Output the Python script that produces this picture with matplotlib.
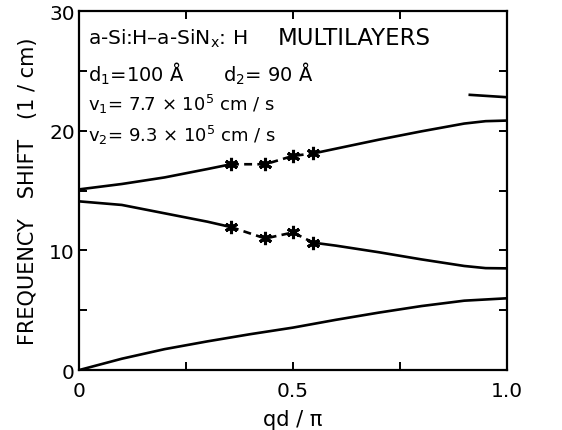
import matplotlib.pyplot as plt
import numpy as np

# ----- branch 1 (acoustic, from origin) -----
x1 = [0.0, 0.1, 0.2, 0.3, 0.4, 0.5, 0.6, 0.7, 0.8, 0.9, 1.0]
y1 = [0.0, 0.95, 1.75, 2.4, 3.0, 3.55, 4.2, 4.8, 5.35, 5.8, 6.0]

# ----- branch 2 (falling from 14) -----
x2a = [0.0, 0.1, 0.2, 0.3, 0.355]
y2a = [14.1, 13.8, 13.1, 12.4, 11.95]
x2s = [0.355, 0.435, 0.50, 0.547]     # measured points (stars)
y2s = [11.95, 11.0, 11.5, 10.65]
x2b = [0.547, 0.6, 0.7, 0.8, 0.9, 0.95, 1.0]
y2b = [10.65, 10.4, 9.85, 9.25, 8.7, 8.52, 8.5]

# ----- branch 3 (rising from 15) -----
x3a = [0.0, 0.1, 0.2, 0.3, 0.355]
y3a = [15.1, 15.55, 16.1, 16.8, 17.2]
x3s = [0.355, 0.435, 0.50, 0.547]
y3s = [17.2, 17.2, 17.9, 18.1]
x3b = [0.547, 0.6, 0.7, 0.8, 0.9, 0.95, 1.0]
y3b = [18.1, 18.5, 19.25, 19.95, 20.6, 20.8, 20.85]

# ----- branch 4 (short piece near zone edge) -----
x4 = [0.913, 1.0]
y4 = [23.0, 22.8]

xticks = [0, 0.5, 1.0]
xtick_labels = ['0', '0.5', '1.0']
yticks = [0, 10, 20, 30]

fig = plt.figure(figsize=(5.62, 4.31), dpi=100)
ax = fig.add_axes([0.1406, 0.139, 0.7616, 0.833])

lw = 1.9
ax.plot(x1, y1, color='k', linewidth=lw)
for xa, ya, xs, ys, xb, yb in [(x2a, y2a, x2s, y2s, x2b, y2b),
                               (x3a, y3a, x3s, y3s, x3b, y3b)]:
    ax.plot(xa, ya, color='k', linewidth=lw, solid_capstyle='butt')
    ax.plot(xs, ys, color='k', linewidth=lw, linestyle=(0, (3, 2)))
    ax.plot(xs, ys, linestyle='none', marker=(6, 2, 0), markersize=9.5,
            markeredgewidth=2.2, color='k')
    ax.plot(xb, yb, color='k', linewidth=lw, solid_capstyle='butt')
ax.plot(x4, y4, color='k', linewidth=lw)

ax.set_xlim(0, 1.0)
ax.set_ylim(0, 30)
ax.set_xticks(xticks)
ax.set_xticklabels(xtick_labels)
ax.set_xticks([0.25, 0.75], minor=True)
ax.set_yticks(yticks)
ax.set_yticks([5, 15, 25], minor=True)
ax.tick_params(which='both', direction='in', top=True, right=True,
               length=6, width=1.4, labelsize=14.5)
ax.tick_params(axis='y', pad=3)
ax.tick_params(axis='x', pad=8)
for s in ax.spines.values():
    s.set_linewidth(1.6)

ax.set_xlabel('qd / π', fontsize=15, labelpad=6)
ax.set_ylabel('FREQUENCY   SHIFT   (1 / cm)', fontsize=15, labelpad=8)

fs = 14
ax.text(0.021, 27.8, 'a-Si:H–a-SiN$_\\mathregular{x}$: H', fontsize=14.5, va='center')
ax.text(0.465, 27.8, 'MULTILAYERS', fontsize=16.5, va='center')
ax.text(0.021, 24.8, 'd$_\\mathregular{1}$=100 Å', fontsize=fs, va='center')
ax.text(0.336, 24.8, 'd$_\\mathregular{2}$= 90 Å', fontsize=fs, va='center')
ax.text(0.021, 22.3, 'v$_\\mathregular{1}$= 7.7 × 10$^\\mathregular{5}$ cm / s', fontsize=13, va='center')
ax.text(0.021, 19.65, 'v$_\\mathregular{2}$= 9.3 × 10$^\\mathregular{5}$ cm / s', fontsize=13, va='center')

plt.savefig('out.png', dpi=100)
